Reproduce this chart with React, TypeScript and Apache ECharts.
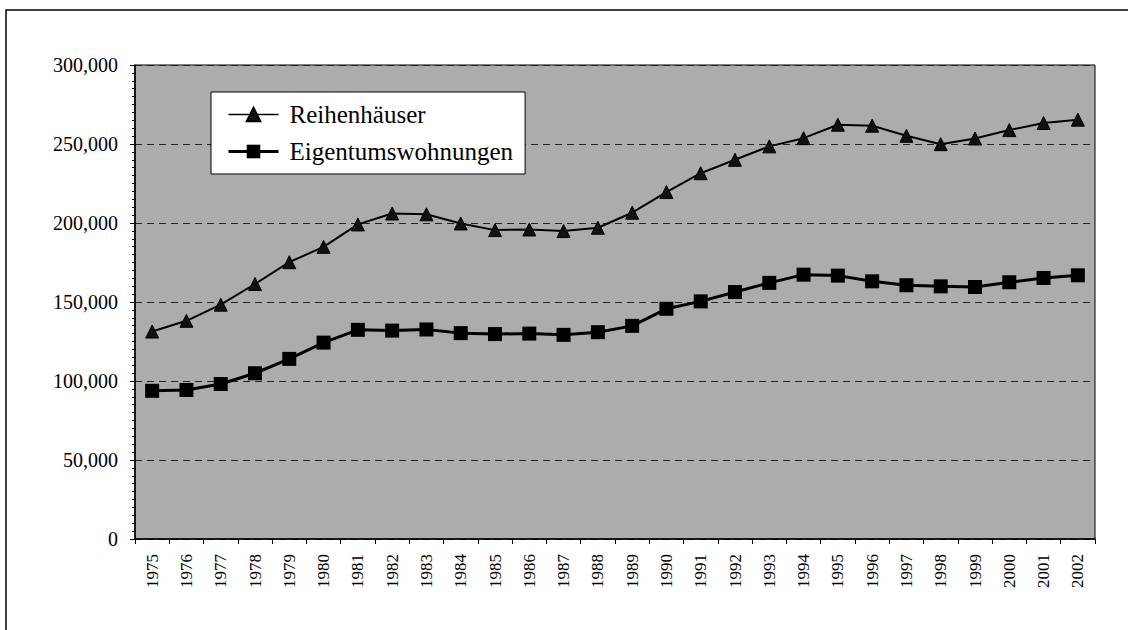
import React, { useEffect, useRef } from "react";
import * as echarts from "echarts";

const years = ["1975","1976","1977","1978","1979","1980","1981","1982","1983","1984","1985","1986","1987","1988","1989","1990","1991","1992","1993","1994","1995","1996","1997","1998","1999","2000","2001","2002"];
const reihenhaeuser = [131300,138100,148300,161400,175200,184900,199100,206000,205500,199700,195500,195900,194900,197000,206500,219600,231500,240000,248500,253700,262200,261600,255200,249900,253500,258800,263300,265400];
const eigentumswohnungen = [93800,94300,98100,104900,114000,124300,132400,131900,132600,130300,129700,130000,129200,130900,134900,145700,150400,156300,162100,167300,166700,163100,160600,159900,159500,162500,165200,166900];
const yTicks = { min: 0, max: 300000, interval: 50000 };

const FONT = '"Liberation Serif", "Times New Roman", serif';

export default function App() {
  const ref = useRef<HTMLDivElement>(null);
  useEffect(() => {
    document.body.style.margin = "0";
    const chart = echarts.init(ref.current!, null, { renderer: "svg" });
    chart.setOption({
      animation: false,
      backgroundColor: "#ffffff",
      graphic: [
        {
          type: "rect",
          shape: { x: 6, y: 10, width: 1140, height: 640 },
          style: { fill: "none", stroke: "#000", lineWidth: 1.5 },
          silent: true,
        },
      ],
      grid: {
        left: 135,
        top: 65,
        right: 33,
        bottom: 91,
        show: true,
        backgroundColor: "#acacac",
        borderColor: "#000",
        borderWidth: 1,
      },
      legend: {
        orient: "vertical",
        left: 211,
        top: 92,
        padding: [10, 12, 10, 16],
        itemGap: 12,
        itemWidth: 50,
        itemHeight: 17,
        backgroundColor: "#ffffff",
        borderColor: "#000",
        borderWidth: 1,
        textStyle: { fontFamily: FONT, fontSize: 25, color: "#000", padding: [0, 0, 0, 6] },
        data: [
          { name: "Reihenhäuser", lineStyle: { width: 1.5 } },
          { name: "Eigentumswohnungen", lineStyle: { width: 3 } },
        ],
      },
      xAxis: {
        type: "category",
        data: years,
        boundaryGap: true,
        axisLine: { lineStyle: { color: "#000", width: 1.5 } },
        axisTick: { show: true, length: 5, inside: false, lineStyle: { color: "#000" } },
        axisLabel: {
          rotate: 90,
          interval: 0,
          margin: 15,
          fontFamily: FONT,
          fontSize: 17,
          color: "#000",
        },
        splitLine: { show: false },
      },
      yAxis: {
        type: "value",
        min: yTicks.min,
        max: yTicks.max,
        interval: yTicks.interval,
        axisLine: { show: true, lineStyle: { color: "#000", width: 1.5 } },
        axisTick: { show: true, length: 5, lineStyle: { color: "#000" } },
        minorTick: { show: true, splitNumber: 10, length: 3, lineStyle: { color: "#000" } },
        axisLabel: {
          margin: 17,
          fontFamily: FONT,
          fontSize: 20,
          color: "#000",
          formatter: (v: number) => v.toLocaleString("en-US"),
        },
        splitLine: {
          show: true,
          lineStyle: { color: "#222", type: [7, 5], width: 1 },
        },
      },
      series: [
        {
          name: "Reihenhäuser",
          type: "line",
          data: reihenhaeuser,
          symbol: "triangle",
          symbolSize: 13,
          lineStyle: { color: "#000", width: 2 },
          itemStyle: { color: "#111", borderColor: "#000", borderWidth: 1 },
        },
        {
          name: "Eigentumswohnungen",
          type: "line",
          data: eigentumswohnungen,
          symbol: "rect",
          symbolSize: 14,
          lineStyle: { color: "#000", width: 3 },
          itemStyle: { color: "#000" },
        },
      ],
    });
    return () => chart.dispose();
  }, []);
  return <div ref={ref} style={{ width: 1128, height: 630 }} />;
}
